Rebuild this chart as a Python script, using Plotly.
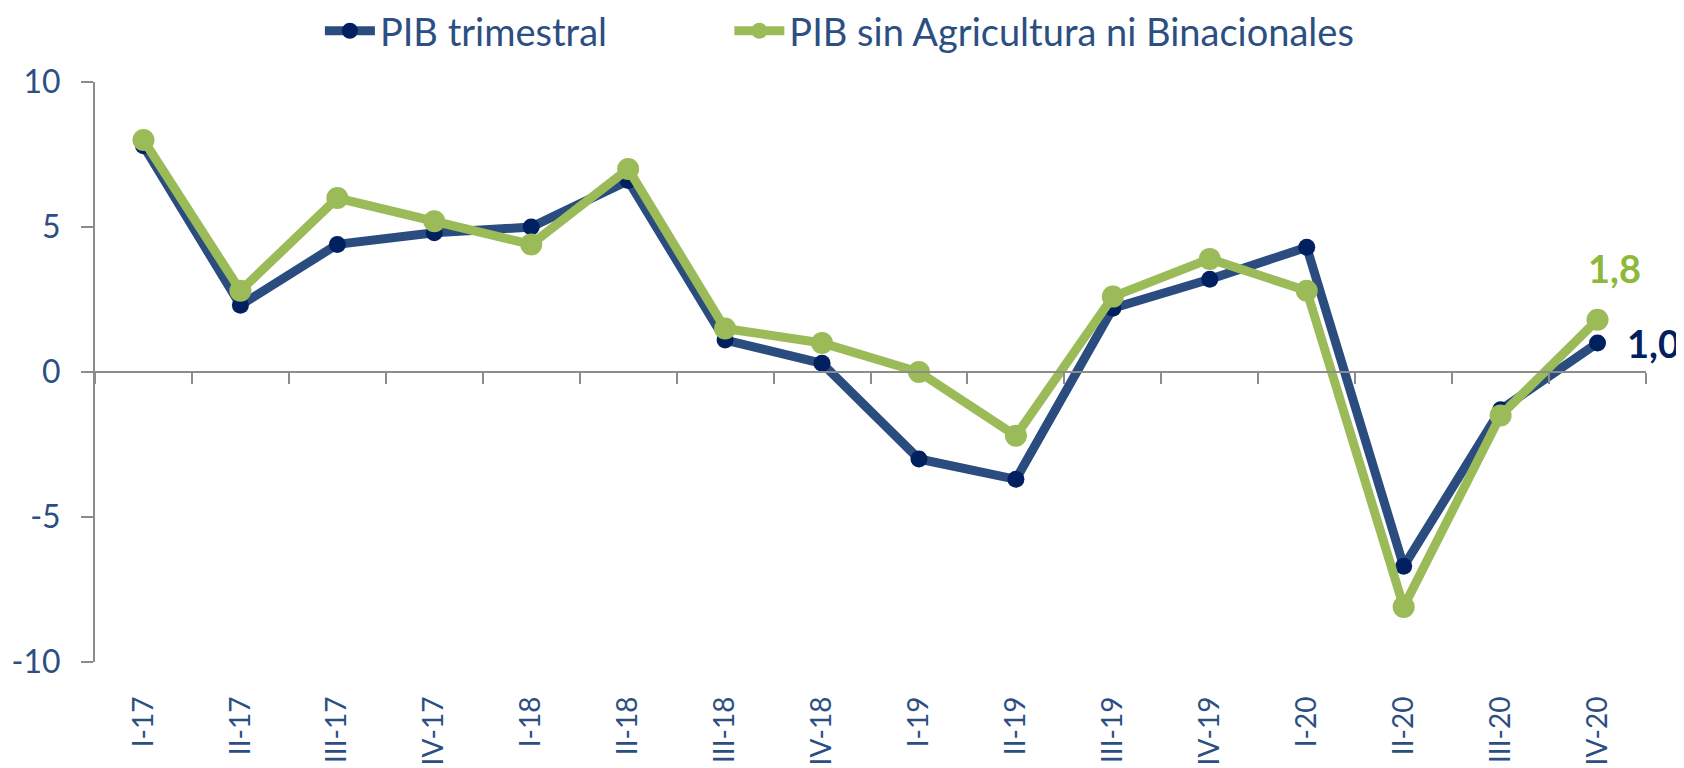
import plotly.graph_objects as go

categories = ["I-17", "II-17", "III-17", "IV-17", "I-18", "II-18", "III-18", "IV-18",
              "I-19", "II-19", "III-19", "IV-19", "I-20", "II-20", "III-20", "IV-20"]
pib_trimestral = [7.8, 2.3, 4.4, 4.8, 5.0, 6.6, 1.1, 0.3, -3.0, -3.7, 2.2, 3.2, 4.3, -6.7, -1.3, 1.0]
pib_sin_agro = [8.0, 2.8, 6.0, 5.2, 4.4, 7.0, 1.5, 1.0, 0.0, -2.2, 2.6, 3.9, 2.8, -8.1, -1.5, 1.8]
y_ticks = [-10, -5, 0, 5, 10]
y_ticktext = ["-10", "-5", "0", "5", "10"]

TEXT = "#2C4F82"
BLUE_LINE = "#2B4C7E"
BLUE_MARK = "#002060"
GREEN = "#9BBB59"
GREEN_TXT = "#8DB83A"
AXIS = "#8C8C8C"
FONT = "Lato"

fig = go.Figure()
fig.add_trace(go.Scatter(
    x=categories, y=pib_trimestral, name="PIB trimestral", mode="lines+markers",
    line=dict(color=BLUE_LINE, width=9), marker=dict(color=BLUE_MARK, size=17),
    legend="legend",
))
fig.add_trace(go.Scatter(
    x=categories, y=pib_sin_agro, name="PIB sin Agricultura ni Binacionales", mode="lines+markers",
    line=dict(color=GREEN, width=9), marker=dict(color=GREEN, size=22),
    legend="legend2",
))
# invisible helper trace for the zero axis with boundary ticks
fig.add_trace(go.Scatter(
    x=list(range(len(categories))), y=pib_trimestral, xaxis="x2", mode="markers",
    marker=dict(opacity=0), showlegend=False, hoverinfo="skip",
))

n = len(categories)
fig.add_annotation(x=categories[-1], y=pib_sin_agro[-1], text=f"<b>{pib_sin_agro[-1]:.1f}</b>".replace(".", ","),
                   showarrow=False, xshift=17, yshift=52, font=dict(family=FONT, size=38, color=GREEN_TXT))
fig.add_annotation(x=categories[-1], y=pib_trimestral[-1], text=f"<b>{pib_trimestral[-1]:.1f}</b>".replace(".", ","),
                   showarrow=False, xanchor="center", xshift=56, yshift=0,
                   font=dict(family=FONT, size=38, color=BLUE_MARK))

legend_common = dict(orientation="h", xref="paper", xanchor="left",
                     yref="container", y=0.9697, yanchor="middle",
                     font=dict(size=38, color=TEXT), itemwidth=50,
                     bgcolor="rgba(0,0,0,0)")

fig.update_layout(
    width=1676, height=760,
    margin=dict(l=87, r=38, t=74, b=106, autoexpand=False),
    paper_bgcolor="white", plot_bgcolor="white",
    font=dict(family=FONT, color=TEXT, size=28),
    showlegend=True,
    legend=dict(x=0.145, **legend_common),
    legend2=dict(x=0.409, **legend_common),
    xaxis=dict(type="category", range=[-0.5, n - 0.5], showline=False, ticks="",
               showgrid=False, zeroline=False, tickangle=-90, automargin=False,
               ticklabelstandoff=28, tickfont=dict(size=28, color=TEXT)),
    xaxis2=dict(overlaying="x", anchor="free", position=0.5, range=[-0.5, n - 0.5],
                tickvals=[i - 0.5 for i in range(n + 1)], showticklabels=False,
                showline=True, linecolor=AXIS, linewidth=2, ticks="outside", ticklen=11,
                tickcolor=AXIS, tickwidth=2, showgrid=False, zeroline=False),
    yaxis=dict(range=[-10, 10], tickvals=y_ticks, ticktext=y_ticktext, showline=True,
               linecolor=AXIS, linewidth=2, automargin=False,
               ticks="outside", ticklen=12, tickcolor=AXIS, tickwidth=2, showgrid=False,
               zeroline=False, tickfont=dict(size=32, color=TEXT), ticklabelstandoff=14),
)

fig.write_html("out.html")
